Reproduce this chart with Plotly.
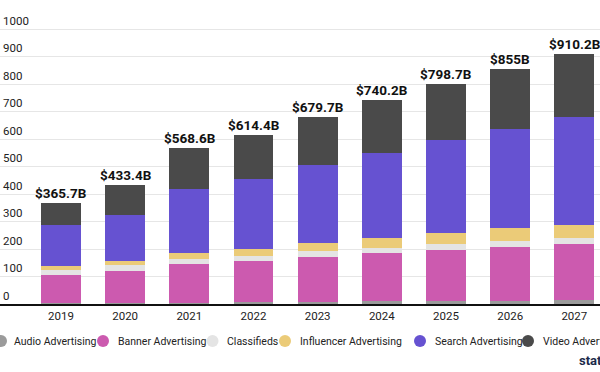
import plotly.graph_objects as go

years = ["2019", "2020", "2021", "2022", "2023", "2024", "2025", "2026", "2027"]
audio = [3, 4, 5, 8, 9, 10, 10, 12, 13]
banner = [103, 116, 140, 148, 161, 174, 188, 197, 206]
classifieds = [18, 21, 20, 18, 21, 20, 21, 21, 22]
influencer = [13, 15, 22, 27, 32, 36, 38, 45, 48]
search = [152, 168, 231.6, 252, 281, 309, 338, 360, 392]
video = [76.7, 109.4, 150, 161.4, 175.7, 191.2, 203.7, 220, 229.2]

series_names = ["Audio Advertising", "Banner Advertising", "Classifieds",
                "Influencer Advertising", "Search Advertising", "Video Advertising"]
series_values = [audio, banner, classifieds, influencer, search, video]
series_colors = ["#9b9b9b", "#cc5aaf", "#e4e4e4", "#ebcb78", "#6652d1", "#4a4a4a"]

ytick_vals = [0, 100, 200, 300, 400, 500, 600, 700, 800, 900, 1000]
ytick_text = ["0", "100", "200", "300", "400", "500", "600", "700", "800", "900", "1000"]

FONT = "Roboto"

fig = go.Figure()
for name, vals, col in zip(series_names, series_values, series_colors):
    fig.add_trace(go.Bar(
        x=years, y=vals, name=name, marker=dict(color=col, line=dict(width=0)),
        width=0.62, showlegend=False,
        hovertemplate="%{x}: %{y}<extra>" + name + "</extra>",
    ))

totals = [round(sum(v), 1) for v in zip(*series_values)]
for i, t in enumerate(totals):
    # category axis: numeric-looking labels, so position by category index
    fig.add_annotation(
        x=i, y=t, xref="x", yref="y", text="<b>$" + f"{t:g}" + "B</b>",
        showarrow=False, yanchor="bottom", yshift=0,
        font=dict(family=FONT, size=13.5, color="#111111"),
    )

# Legend drawn as circles + labels
PLOT_BOTTOM = 304.0
leg_y = (PLOT_BOTTOM - 341) / PLOT_BOTTOM
leg_circle_x = [1, 103, 212.5, 285, 420, 528]
leg_text_x = [12, 116, 225, 298, 433, 541]
for name, col, cx, tx in zip(series_names, series_colors, leg_circle_x, leg_text_x):
    fig.add_shape(
        type="circle", xref="paper", yref="paper",
        xsizemode="pixel", ysizemode="pixel",
        xanchor=cx / 600, yanchor=leg_y, x0=-6, x1=6, y0=-6, y1=6,
        fillcolor=col, line=dict(width=0),
    )
    fig.add_annotation(
        x=tx / 600, y=leg_y, xref="paper", yref="paper", text=name,
        showarrow=False, xanchor="left", yanchor="middle",
        font=dict(family=FONT, size=10.5, color="#222222"),
    )

fig.add_annotation(
    x=577 / 600, y=(PLOT_BOTTOM - 360) / PLOT_BOTTOM, xref="paper", yref="paper",
    text="<b>statista</b>", showarrow=False, xanchor="left", yanchor="middle",
    font=dict(family=FONT, size=13, color="#1b2a4a"),
)

fig.update_layout(
    width=600, height=372,
    margin=dict(l=0, r=0, t=0, b=372 - PLOT_BOTTOM, autoexpand=False),
    barmode="stack",
    plot_bgcolor="white", paper_bgcolor="white",
    font=dict(family=FONT, size=11, color="#333333"),
    bargap=0.38,
    xaxis=dict(
        type="category", range=[-0.95, 8.40], showgrid=False, automargin=False,
        showline=True, linecolor="#111111", linewidth=2,
        ticks="", tickfont=dict(size=11.5, color="#222222"),
    ),
    yaxis=dict(
        range=[0, PLOT_BOTTOM / 0.275], tickvals=ytick_vals, ticktext=ytick_text,
        ticklabelposition="inside top", showgrid=True, gridcolor="#e6e6e6",
        gridwidth=1, zeroline=False, showline=False, automargin=False,
        tickfont=dict(size=11.5, color="#222222"),
    ),
)

fig.write_html(
    "out.html",
    config={"displayModeBar": False},
    post_script="document.body.style.margin='0';document.body.style.overflow='hidden';",
)
